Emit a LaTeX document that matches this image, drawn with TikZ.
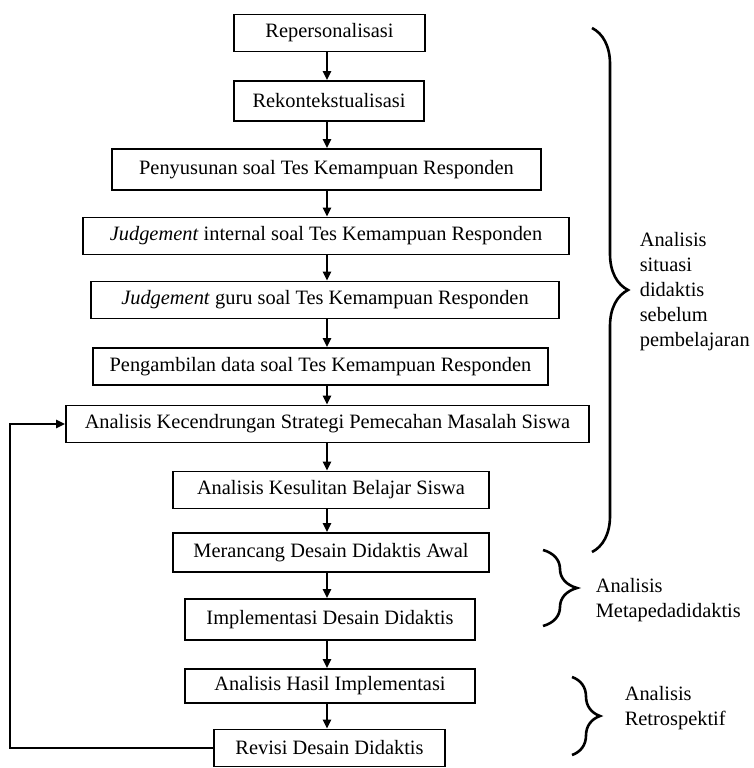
\documentclass[tikz,border=0pt]{standalone}
\usepackage{fontspec}
\setmainfont{Liberation Serif}
\usetikzlibrary{arrows.meta}
\usetikzlibrary{decorations.pathreplacing}
\tikzset{
  every picture/.style={
    line width=1.6pt,
    >={Triangle[width=8pt, length=9pt]}
  },
  flowbox/.style={
    draw, minimum width=#1, minimum height=37pt,
    inner sep=0pt, font=\fontsize{20.4}{25}\selectfont
  },
  link/.style={->, line width=2.3pt},
  curly/.style={
    decorate, line width=2.6pt,
    decoration={brace, amplitude=#1}
  },
  note/.style={
    anchor=west, align=left, inner sep=0pt,
    font=\fontsize{20.4}{25}\selectfont
  }
}

\begin{document}
\begin{tikzpicture}[x=1pt, y=-1pt]
  \useasboundingbox (0,0) rectangle (754,768);
  % steps
  \node[flowbox=191pt] (rep) at (329.5,33) {Repersonalisasi};
  \node[flowbox=190pt, minimum height=40pt] (rek) at (329,101) {Rekontekstualisasi};
  \node[flowbox=429pt, minimum height=41pt] (pen) at (326.5,169.5) {Penyusunan soal Tes Kemampuan Responden};
  \node[flowbox=486pt] (ji) at (326,236) {\textit{Judgement} internal soal Tes Kemampuan Responden};
  \node[flowbox=468pt] (jg) at (325,300) {\textit{Judgement} guru soal Tes Kemampuan Responden};
  \node[flowbox=455pt] (peng) at (320.5,366.5) {Pengambilan data soal Tes Kemampuan Responden};
  \node[flowbox=523pt] (ak) at (327.5,424) {Analisis Kecendrungan Strategi Pemecahan Masalah Siswa};
  \node[flowbox=316pt] (aks) at (331,490) {Analisis Kesulitan Belajar Siswa};
  \node[flowbox=316pt, minimum height=39pt] (mer) at (331,552.5) {Merancang Desain Didaktis Awal};
  \node[flowbox=290pt, minimum height=41pt] (imp) at (330,619.5) {Implementasi Desain Didaktis};
  \node[flowbox=290pt, minimum height=34pt] (ah) at (330,686) {Analisis Hasil Implementasi};
  \node[flowbox=231pt] (rev) at (329.5,748) {Revisi Desain Didaktis};
  % arrows
  \coordinate (col) at (327,0);
  \coordinate (back) at (10,590);
  \foreach \a/\b in {rep/rek,rek/pen,pen/ji,ji/jg,jg/peng,peng/ak,ak/aks,aks/mer,mer/imp,imp/ah,ah/rev}
    \draw[link] (\a.south -| col) -- (\b.north -| col);
  \draw[link] (rev) -| (back) |- (ak);
  % braces
  \coordinate (b1a) at (592,28);
  \coordinate (b1b) at (592,552);
  \coordinate (b2a) at (543,550);
  \coordinate (b2b) at (543,626);
  \coordinate (b3a) at (572,677);
  \coordinate (b3b) at (572,755);
  \draw[curly=36pt] (b1a) -- (b1b);
  \draw[curly=34pt] (b2a) -- (b2b);
  \draw[curly=28pt] (b3a) -- (b3b);
  \node[note] (n1) at (639,292) {Analisis\\situasi\\didaktis\\sebelum\\pembelajaran};
  \node[note] (n2) at (595,600) {Analisis\\Metapedadidaktis};
  \node[note] (n3) at (624,708) {Analisis\\Retrospektif};
\end{tikzpicture}
\end{document}
